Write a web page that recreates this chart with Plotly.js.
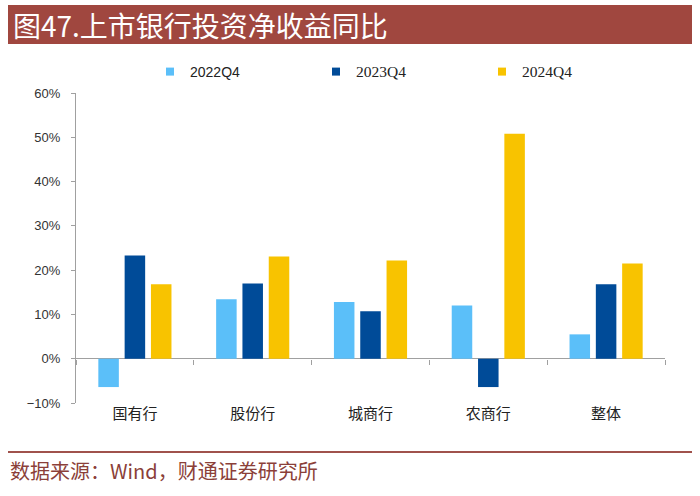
<!DOCTYPE html>
<html>
<head>
<meta charset="utf-8">
<script src="https://cdn.plot.ly/plotly-3.0.1.min.js"></script>
<style>html,body{margin:0;padding:0;background:#fff;}#chart{width:700px;height:496px;}</style>
</head>
<body>
<div id="chart"></div>
<script>
const categories = ['国有行', '股份行', '城商行', '农商行', '整体'];
const seriesNames = ['2022Q4', '2023Q4', '2024Q4'];
const values2022Q4 = [-6.4, 13.4, 12.8, 12.0, 5.5];
const values2023Q4 = [23.3, 17.0, 10.7, -6.4, 16.8];
const values2024Q4 = [16.8, 23.1, 22.2, 50.8, 21.5];
const seriesColors = ['#5BBFF9', '#004B98', '#F8C300'];
const legendFonts = ['Liberation Sans, Arial, sans-serif', 'Liberation Serif, Times New Roman, serif', 'Liberation Serif, Times New Roman, serif'];
const legendSizes = [14, 15.5, 15.5];
const yTickValues = [-10, 0, 10, 20, 30, 40, 50, 60];
const yTickLabels = ['\u221210%', '0%', '10%', '20%', '30%', '40%', '50%', '60%'];
const titleText = '图47.上市银行投资净收益同比';
const sourceText = '数据来源：Wind，财通证券研究所';

// plot area in pixels (for converting decoration positions to paper coords)
const W = 700, H = 496, ML = 76, MR = 35, MT = 93, MB = 93;
const PW = W - ML - MR, PH = H - MT - MB;
const px = x => (x - ML) / PW;
const py = y => (H - MB - y) / PH;

const allValues = [values2022Q4, values2023Q4, values2024Q4];
const traces = [];
allValues.forEach((vals, i) => {
  traces.push({
    type: 'bar', x: categories, y: vals, name: seriesNames[i],
    marker: {color: seriesColors[i], line: {width: 0}},
    showlegend: false, hoverinfo: 'none'
  });
});
// legend entries (small square markers)
allValues.forEach((vals, i) => {
  traces.push({
    type: 'scatter', mode: 'markers', x: [null], y: [null],
    name: '<span style="font-family:' + legendFonts[i] + ';font-size:' + legendSizes[i] + 'px">' + seriesNames[i] + '</span>',
    marker: {symbol: 'square', size: 8, color: seriesColors[i]},
    showlegend: true, hoverinfo: 'none'
  });
});
// helper trace for the category tick axis drawn along zero
traces.push({type: 'scatter', mode: 'none', x: categories, y: categories.map(() => null), xaxis: 'x2', showlegend: false, hoverinfo: 'none'});

const layout = {
  width: W, height: H,
  margin: {l: ML, r: MR, t: MT, b: MB, pad: 0},
  paper_bgcolor: '#ffffff', plot_bgcolor: '#ffffff',
  barmode: 'group', bargap: 0.33, bargroupgap: 0.22,
  font: {family: 'Liberation Sans, Arial, sans-serif', color: '#333'},
  showlegend: true,
  legend: {
    orientation: 'h', x: px(150), xanchor: 'left', y: py(72), yanchor: 'middle',
    font: {size: 14, color: '#222'}, entrywidth: 121, entrywidthmode: 'pixels',
    bgcolor: 'rgba(0,0,0,0)', borderwidth: 0, traceorder: 'normal'
  },
  xaxis: {
    type: 'category', categoryorder: 'array', categoryarray: categories,
    range: [-0.5, categories.length - 0.5],
    showline: false, ticks: '', showgrid: false, zeroline: false,
    tickfont: {family: 'Noto Sans CJK SC, sans-serif', size: 15, color: '#222'}
  },
  xaxis2: {
    type: 'category', categoryorder: 'array', categoryarray: categories,
    range: [-0.5, categories.length - 0.5],
    overlaying: 'x', anchor: 'free', position: (0 - (-10)) / 70,
    showline: false, ticks: 'outside', tickson: 'boundaries', ticklen: 5,
    tickcolor: '#A0A0A0', tickwidth: 1, showticklabels: false, showgrid: false, zeroline: false
  },
  yaxis: {
    range: [-10, 60], tickmode: 'array', tickvals: yTickValues, ticktext: yTickLabels,
    showline: true, linecolor: '#A0A0A0', linewidth: 1,
    ticks: 'outside', ticklen: 4, tickcolor: '#A0A0A0', ticklabelstandoff: 8,
    showgrid: false, zeroline: true, zerolinecolor: '#A0A0A0', zerolinewidth: 1,
    tickfont: {family: 'Liberation Sans, Arial, sans-serif', size: 13, color: '#333'}
  },
  shapes: [
    {type: 'rect', xref: 'paper', yref: 'paper', x0: px(8), x1: px(692), y0: py(44), y1: py(5),
     fillcolor: '#A0473F', line: {width: 0}, layer: 'below'},
    {type: 'line', xref: 'paper', yref: 'paper', x0: px(8), x1: px(692), y0: py(452), y1: py(452),
     line: {color: '#A0524C', width: 2}}
  ],
  annotations: [
    {xref: 'paper', yref: 'paper', x: px(11), y: py(25), xanchor: 'left', yanchor: 'middle',
     text: titleText, showarrow: false,
     font: {family: 'Noto Sans CJK SC, sans-serif', size: 28, color: '#ffffff'}},
    {xref: 'paper', yref: 'paper', x: px(8), y: py(471), xanchor: 'left', yanchor: 'middle',
     text: sourceText, showarrow: false,
     font: {family: 'Noto Sans CJK SC, sans-serif', size: 20, color: '#8B3F39'}}
  ]
};

Plotly.newPlot('chart', traces, layout, {staticPlot: true, displayModeBar: false});
</script>
</body>
</html>
